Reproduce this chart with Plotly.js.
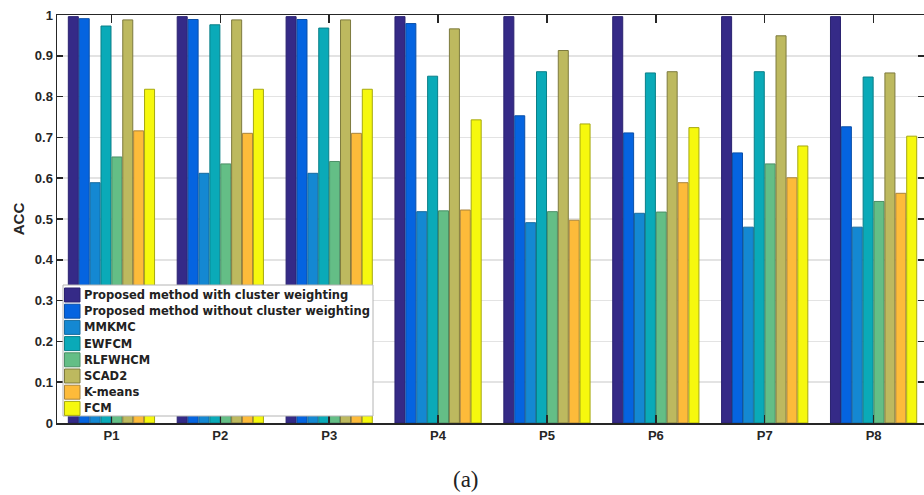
<!DOCTYPE html>
<html>
<head>
<meta charset="utf-8">
<script src="https://cdn.plot.ly/plotly-3.0.1.min.js"></script>
<style>html,body{margin:0;padding:0;background:#fff;}#chart{width:924px;height:495px;}</style>
</head>
<body>
<div id="chart"></div>
<script>
const categories = ['P1','P2','P3','P4','P5','P6','P7','P8'];
const seriesNames = [
  'Proposed method with cluster weighting',
  'Proposed method without cluster weighting',
  'MMKMC','EWFCM','RLFWHCM','SCAD2','K-means','FCM'
];
const withWeighting    = [0.996,0.996,0.996,0.996,0.996,0.996,0.996,0.996];
const withoutWeighting = [0.991,0.989,0.989,0.979,0.753,0.711,0.662,0.726];
const mmkmc            = [0.589,0.612,0.612,0.518,0.491,0.514,0.480,0.480];
const ewfcm            = [0.973,0.976,0.968,0.850,0.861,0.858,0.861,0.848];
const rlfwhcm          = [0.652,0.635,0.641,0.520,0.518,0.517,0.635,0.543];
const scad2            = [0.988,0.988,0.988,0.966,0.913,0.861,0.949,0.858];
const kmeans           = [0.716,0.710,0.710,0.522,0.497,0.589,0.601,0.563];
const fcm              = [0.818,0.818,0.818,0.743,0.733,0.724,0.679,0.703];
const seriesValues = [withWeighting, withoutWeighting, mmkmc, ewfcm, rlfwhcm, scad2, kmeans, fcm];
const colors = ['#352a87','#0564e0','#1488d2','#0aaab8','#64be86','#bdb95f','#fdbb3a','#f6f80e'];
const edges  = ['#2a2270','#0a4fa8','#176b9e','#0a7f88','#4b8f66','#7d7a3e','#a9843a','#a6a810'];

const FONT = 'Liberation Sans, Arial, sans-serif';
const LEGFONT = 'DejaVu Sans, Liberation Sans, sans-serif';
const traces = seriesValues.map((vals, i) => ({
  type: 'bar',
  name: seriesNames[i],
  x: categories,
  y: vals,
  marker: {color: colors[i], line: {color: edges[i], width: 1}},
  hoverinfo: 'x+y+name'
}));

// plot area in pixels: x 57..924, y 15..423
const PX = px => (px - 57) / 867;
const PY = py => (423 - py) / 408;

const shapes = [{
  type: 'rect', xref: 'paper', yref: 'paper', layer: 'above',
  x0: PX(63), x1: PX(373), y0: PY(416), y1: PY(285),
  fillcolor: '#ffffff', line: {color: '#b4b4b4', width: 1}
}];
const annotations = [];
seriesNames.forEach((name, i) => {
  const cy = 295 + i * 16.2;
  shapes.push({
    type: 'rect', xref: 'paper', yref: 'paper', layer: 'above',
    x0: PX(64.5), x1: PX(80), y0: PY(cy + 7), y1: PY(cy - 7),
    fillcolor: colors[i], line: {color: edges[i], width: 1}
  });
  annotations.push({
    text: name, xref: 'paper', yref: 'paper', x: PX(81.5), y: PY(cy),
    xanchor: 'left', yanchor: 'middle', showarrow: false,
    font: {size: 11.5, family: LEGFONT, weight: 'bold', color: '#222'}
  });
});
annotations.push({
  text: '(a)', xref: 'paper', yref: 'paper', x: PX(466), y: PY(479),
  xanchor: 'center', yanchor: 'middle', showarrow: false,
  font: {size: 23, family: 'Liberation Serif, Times New Roman, serif', color: '#222'}
});

const layout = {
  width: 924, height: 495,
  margin: {l: 57, r: 0, t: 15, b: 72},
  paper_bgcolor: '#ffffff',
  plot_bgcolor: '#ffffff',
  barmode: 'group',
  bargap: 0.2,
  bargroupgap: 0.08,
  showlegend: false,
  font: {family: FONT, color: '#262626'},
  xaxis: {
    range: [-0.5, 7.463],
    showline: true, linecolor: '#262626', linewidth: 1.5,
    mirror: 'ticks',
    ticks: 'inside', ticklen: 8, tickcolor: '#262626', tickwidth: 1.5,
    showgrid: false,
    tickfont: {size: 13, family: FONT, weight: 'bold', color: '#262626'}
  },
  yaxis: {
    range: [0, 1],
    dtick: 0.1,
    tickformat: '.1~f',
    showline: true, linecolor: '#262626', linewidth: 1.5,
    mirror: 'ticks',
    ticks: 'inside', ticklen: 6, tickcolor: '#262626', tickwidth: 1.5,
    showgrid: true, gridcolor: '#e3e3e3', gridwidth: 1.5,
    zeroline: false,
    tickfont: {size: 13, family: FONT, weight: 'bold', color: '#262626'},
    title: {text: 'ACC', font: {size: 15, family: FONT, weight: 'bold', color: '#262626'}, standoff: 6}
  },
  shapes: shapes,
  annotations: annotations
};

Plotly.newPlot('chart', traces, layout, {displayModeBar: false, staticPlot: true});
</script>
</body>
</html>
